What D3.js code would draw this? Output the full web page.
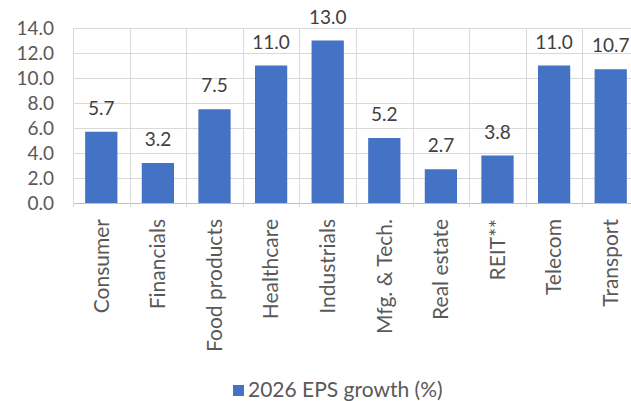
<!DOCTYPE html>
<html>
<head>
<meta charset="utf-8">
<script src="https://cdn.jsdelivr.net/npm/d3@7"></script>
<style>
  body { margin: 0; background: #fff; }
  svg { display: block; font-family: Lato, "Open Sans", sans-serif; }
</style>
</head>
<body>
<svg id="chart" width="631" height="401"></svg>
<script>
const categories = ["Consumer", "Financials", "Food products", "Healthcare", "Industrials", "Mfg. & Tech.", "Real estate", "REIT**", "Telecom", "Transport"];
const values = [5.7, 3.2, 7.5, 11.0, 13.0, 5.2, 2.7, 3.8, 11.0, 10.7];
const yTicks = [0, 2, 4, 6, 8, 10, 12, 14];
const seriesName = "2026 EPS growth (%)";

const svg = d3.select("#chart");
const pLeft = 73, pRight = 639, pTop = 28, pBottom = 203;

const x = d3.scaleBand().domain(categories).range([pLeft, pRight]).paddingInner(0.43).paddingOuter(0.215);
const y = d3.scaleLinear().domain([0, 14]).range([pBottom, pTop]);

const grid = svg.append("g");
grid.selectAll("line.h").data(yTicks).join("line")
  .attr("x1", pLeft).attr("x2", pRight)
  .attr("y1", d => y(d) + 0.5).attr("y2", d => y(d) + 0.5)
  .attr("stroke", d => d === 0 ? "#bfbfbf" : "#d9d9d9").attr("stroke-width", 1);
const step = x.step();
const bounds = d3.range(categories.length + 1).map(i => pLeft + i * step);
grid.selectAll("line.v").data(bounds).join("line")
  .attr("x1", d => Math.round(d) + 0.5).attr("x2", d => Math.round(d) + 0.5)
  .attr("y1", pTop).attr("y2", pBottom + 4)
  .attr("stroke", "#d9d9d9").attr("stroke-width", 1);

const yAxis = d3.axisLeft(y).tickValues(yTicks).tickFormat(d3.format(".1f")).tickSize(0).tickPadding(0);
const ya = svg.append("g").attr("transform", `translate(54,0)`).call(yAxis);
ya.select(".domain").remove();
ya.selectAll("text").attr("fill", "#595959").style("font-size", "19px").style("font-family", "Lato, sans-serif");

svg.append("g").selectAll("rect").data(values).join("rect")
  .attr("x", (d, i) => x(categories[i]))
  .attr("width", x.bandwidth())
  .attr("y", d => y(d))
  .attr("height", d => y(0) - y(d))
  .attr("fill", "#4472C4");

svg.append("g").selectAll("text").data(values).join("text")
  .attr("x", (d, i) => x(categories[i]) + x.bandwidth() / 2)
  .attr("y", d => y(d) - 17)
  .attr("text-anchor", "middle")
  .attr("fill", "#404040")
  .style("font-size", "19px")
  .text(d => d3.format(".1f")(d));

const xAxis = d3.axisBottom(x).tickSize(0).tickPadding(0);
const xa = svg.append("g").attr("transform", `translate(0,${pBottom})`).call(xAxis);
xa.select(".domain").remove();
xa.selectAll("text")
  .attr("transform", "rotate(-90)")
  .attr("text-anchor", "end")
  .attr("x", -16)
  .attr("y", 0)
  .attr("dy", "0.35em")
  .attr("fill", "#595959")
  .style("font-size", "21px")
  .style("font-family", "Lato, sans-serif");

const lg = svg.append("g");
lg.append("rect").attr("x", 233).attr("y", 385).attr("width", 11).attr("height", 11).attr("fill", "#4472C4");
lg.append("text").attr("x", 248).attr("y", 397).attr("fill", "#595959").style("font-size", "21px").text(seriesName);
</script>
</body>
</html>
